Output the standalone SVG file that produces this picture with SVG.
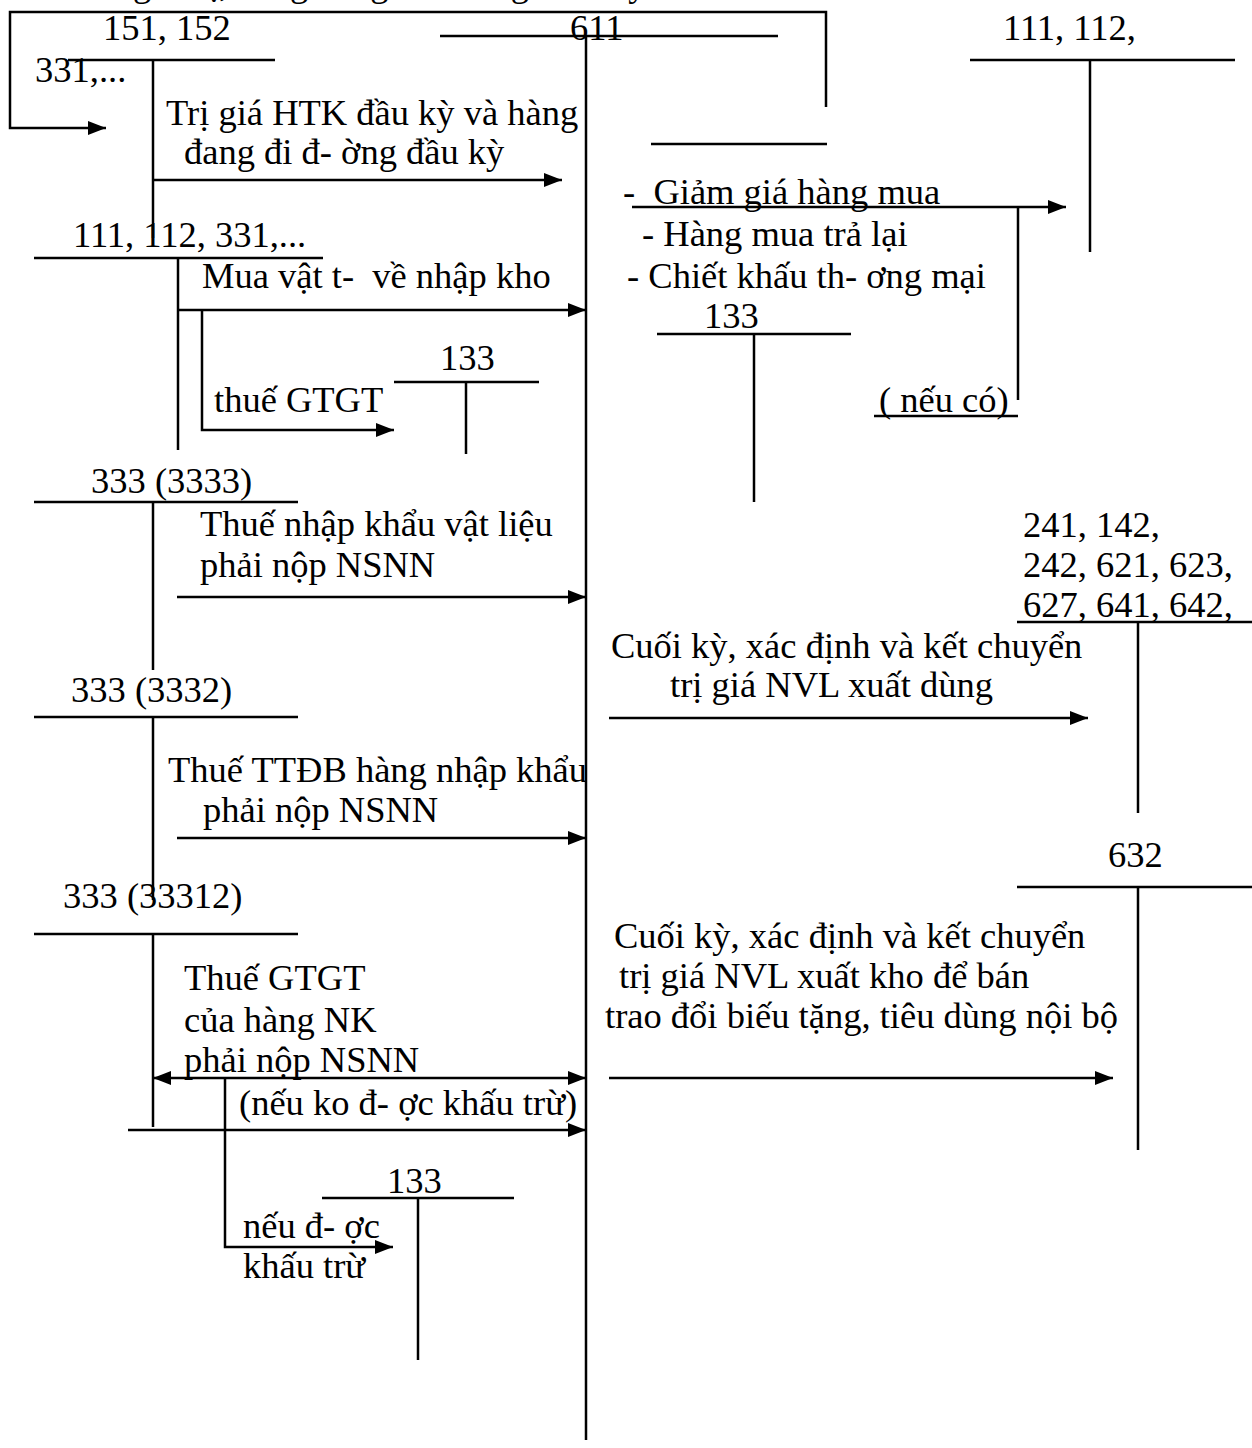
<svg xmlns="http://www.w3.org/2000/svg" width="1252" height="1448" viewBox="0 0 1252 1448">
<style>
text{font-family:"Liberation Serif","Times New Roman",serif;font-size:36.5px;fill:#000;white-space:pre}
line,polyline{stroke:#000;stroke-width:2.5;fill:none}
.arr{marker-end:url(#ah)}
</style>
<defs>
<marker id="ah" markerUnits="userSpaceOnUse" markerWidth="20" markerHeight="16" refX="18" refY="7" orient="auto-start-reverse">
<path d="M0,0 L18,7 L0,14 z" fill="#000"/>
</marker>
</defs>
<rect width="1252" height="1448" fill="#fff"/>
<text x="133" y="-4" fill="#555">giá trị, hàng đang đi đường cuối kỳ</text>

<g id="acc-151-152">
<text x="103" y="40">151, 152</text>
<text x="35" y="82">331,...</text>
<line x1="68" y1="60" x2="275" y2="60"/>
<line x1="153" y1="60" x2="153" y2="238"/>
</g>
<g id="acc-611">
<text x="570" y="40">611</text>
<line x1="440" y1="36" x2="778" y2="36"/>
<line x1="586" y1="36" x2="586" y2="1440"/>
</g>
<g id="acc-111-112-right">
<text x="1003" y="40">111, 112,</text>
<line x1="970" y1="60" x2="1235" y2="60"/>
<line x1="1090" y1="60" x2="1090" y2="252"/>
</g>
<g id="acc-blank">
<line x1="651" y1="144" x2="827" y2="144"/>
</g>
<g id="acc-111-112-331">
<text x="73" y="247">111, 112, 331,...</text>
<line x1="34" y1="258" x2="323" y2="258"/>
<line x1="178" y1="258" x2="178" y2="450"/>
</g>
<g id="acc-133-a">
<text x="440" y="370">133</text>
<line x1="394" y1="382" x2="539" y2="382"/>
<line x1="466" y1="382" x2="466" y2="454"/>
</g>
<g id="acc-133-b">
<text x="704" y="328">133</text>
<line x1="657" y1="334" x2="851" y2="334"/>
<line x1="754" y1="334" x2="754" y2="502"/>
</g>
<g id="acc-3333">
<text x="91" y="493">333 (3333)</text>
<line x1="34" y1="502" x2="298" y2="502"/>
<line x1="153" y1="502" x2="153" y2="670"/>
</g>
<g id="acc-3332">
<text x="71" y="702">333 (3332)</text>
<line x1="34" y1="717" x2="298" y2="717"/>
<line x1="153" y1="717" x2="153" y2="900"/>
</g>
<g id="acc-33312">
<text x="63" y="908">333 (33312)</text>
<line x1="34" y1="934" x2="298" y2="934"/>
<line x1="153" y1="934" x2="153" y2="1127"/>
</g>
<g id="acc-133-c">
<text x="387" y="1193">133</text>
<line x1="322" y1="1198" x2="514" y2="1198"/>
<line x1="418" y1="1198" x2="418" y2="1360"/>
</g>
<g id="acc-241">
<text x="1023" y="537">241, 142,</text>
<text x="1023" y="577">242, 621, 623,</text>
<text x="1023" y="617">627, 641, 642,</text>
<line x1="1017" y1="622" x2="1252" y2="622"/>
<line x1="1138" y1="622" x2="1138" y2="813"/>
</g>
<g id="acc-632">
<text x="1108" y="867">632</text>
<line x1="1017" y1="887" x2="1252" y2="887"/>
<line x1="1138" y1="887" x2="1138" y2="1150"/>
</g>

<g id="connectors">
<polyline class="arr" points="826,107 826,12 10,12 10,128 106,128"/>
<line class="arr" x1="153" y1="180" x2="562" y2="180"/>
<line class="arr" x1="178" y1="310" x2="586" y2="310"/>
<polyline class="arr" points="202,310 202,430 394,430"/>
<line class="arr" x1="632" y1="207" x2="1066" y2="207"/>
<line x1="1018" y1="207" x2="1018" y2="400"/>
<line x1="874" y1="416" x2="1018" y2="416"/>
<line class="arr" x1="177" y1="597" x2="586" y2="597"/>
<line class="arr" x1="609" y1="718" x2="1088" y2="718"/>
<line class="arr" x1="177" y1="838" x2="586" y2="838"/>
<line class="arr" x1="153" y1="1078" x2="586" y2="1078" style="marker-start:url(#ah)"/>
<polyline class="arr" points="225,1078 225,1247 393,1247"/>
<line class="arr" x1="128" y1="1130" x2="586" y2="1130"/>
<line class="arr" x1="609" y1="1078" x2="1113" y2="1078"/>
</g>

<g id="labels">
<text x="166" y="125">Trị giá HTK đầu kỳ và hàng</text>
<text x="184" y="164">đang đi đ- ờng đầu kỳ</text>
<text x="202" y="288">Mua vật t-  về nhập kho</text>
<text x="214" y="412">thuế GTGT</text>
<text x="623" y="204">-  Giảm giá hàng mua</text>
<text x="642" y="246">- Hàng mua trả lại</text>
<text x="627" y="288">- Chiết khấu th- ơng mại</text>
<text x="879" y="412">( nếu có)</text>
<text x="200" y="536">Thuế nhập khẩu vật liệu</text>
<text x="200" y="577">phải nộp NSNN</text>
<text x="611" y="658">Cuối kỳ, xác định và kết chuyển</text>
<text x="670" y="697">trị giá NVL xuất dùng</text>
<text x="168" y="782">Thuế TTĐB hàng nhập khẩu</text>
<text x="203" y="822">phải nộp NSNN</text>
<text x="614" y="948">Cuối kỳ, xác định và kết chuyển</text>
<text x="619" y="988">trị giá NVL xuất kho để bán</text>
<text x="605" y="1028">trao đổi biếu tặng, tiêu dùng nội bộ</text>
<text x="184" y="990">Thuế GTGT</text>
<text x="184" y="1032">của hàng NK</text>
<text x="184" y="1072">phải nộp NSNN</text>
<text x="239" y="1115">(nếu ko đ- ợc khấu trừ)</text>
<text x="243" y="1238">nếu đ- ợc</text>
<text x="243" y="1278">khấu trừ</text>
</g>
</svg>
